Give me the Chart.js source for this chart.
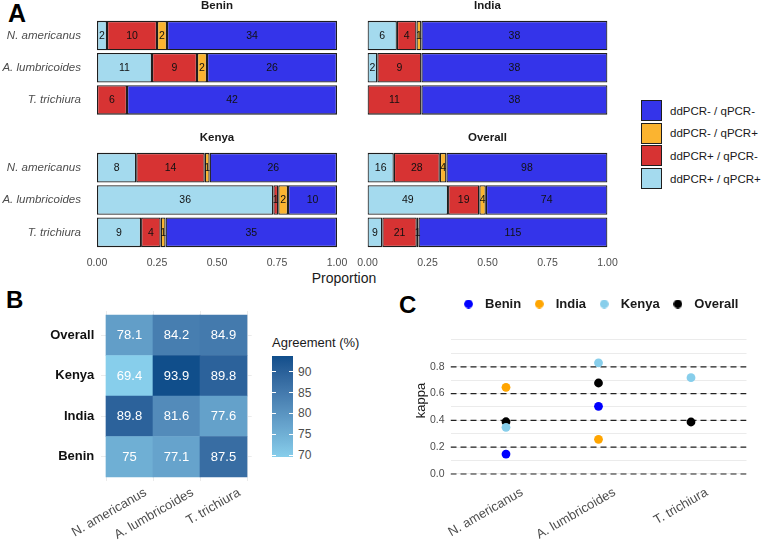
<!DOCTYPE html>
<html><head><meta charset="utf-8">
<script src="https://cdn.jsdelivr.net/npm/chart.js@4"></script>
<style>
body{margin:0;background:#fff;width:764px;height:542px;position:relative;overflow:hidden;font-family:"Liberation Sans",Arial,sans-serif;}
canvas{position:absolute}
.t{position:absolute;white-space:nowrap;color:#1a1a1a}
</style></head><body>
<div class="t" style="left:8px;top:1px;font-size:25px;line-height:25px;font-weight:bold;color:#000">A</div>
<div class="t" style="left:6px;top:288px;font-size:24px;line-height:24px;font-weight:bold;color:#000">B</div>
<div class="t" style="left:399px;top:293px;font-size:24px;line-height:24px;font-weight:bold;color:#000">C</div>

<canvas id="aBenin" width="352" height="116" style="left:0;top:0"></canvas>
<canvas id="aIndia" width="265" height="116" style="left:355px;top:0"></canvas>
<canvas id="aKenya" width="352" height="138" style="left:0;top:132px"></canvas>
<canvas id="aOverall" width="265" height="138" style="left:355px;top:132px"></canvas>
<div class="t" id="propLabel" style="left:344px;top:278px;transform:translate(-50%,-50%);font-size:14px">Proportion</div>
<div id="legendA"></div>

<canvas id="bHeat" width="270" height="252" style="left:0;top:290px"></canvas>
<div id="colorbar"></div>

<canvas id="cKappa" width="384" height="257" style="left:380px;top:285px"></canvas>

<script>
// ---------- data ----------
const species = ['N. americanus', 'A. lumbricoides', 'T. trichiura'];
const stackOrder = ['ddPCR+ / qPCR+', 'ddPCR+ / qPCR-', 'ddPCR- / qPCR+', 'ddPCR- / qPCR-'];
const legendOrderA = ['ddPCR- / qPCR-', 'ddPCR- / qPCR+', 'ddPCR+ / qPCR-', 'ddPCR+ / qPCR+'];
const proportionTicks = [0, 0.25, 0.5, 0.75, 1];

// counts per species (N. americanus, A. lumbricoides, T. trichiura)
const beninPosPos = [2, 11, 0];
const beninPosNeg = [10, 9, 6];
const beninNegPos = [2, 2, 0];
const beninNegNeg = [34, 26, 42];

const indiaPosPos = [6, 2, 0];
const indiaPosNeg = [4, 9, 11];
const indiaNegPos = [1, 0, 0];
const indiaNegNeg = [38, 38, 38];

const kenyaPosPos = [8, 36, 9];
const kenyaPosNeg = [14, 1, 4];
const kenyaNegPos = [1, 2, 1];
const kenyaNegNeg = [26, 10, 35];

const overallPosPos = [16, 49, 9];
const overallPosNeg = [28, 19, 21];
const overallNegPos = [4, 4, 1];
const overallNegNeg = [98, 74, 115];

// agreement (%) heatmap, rows bottom to top
const heatRows = ['Benin', 'India', 'Kenya', 'Overall'];
const agreeBenin = [75, 77.1, 87.5];
const agreeIndia = [89.8, 81.6, 77.6];
const agreeKenya = [69.4, 93.9, 89.8];
const agreeOverall = [78.1, 84.2, 84.9];
const agreeTicks = [70, 75, 80, 85, 90];

// kappa
const kappaSites = ['Benin', 'India', 'Kenya', 'Overall'];
const kappaBenin = [0.149, 0.505, null];
const kappaIndia = [0.647, 0.259, null];
const kappaKenya = [0.348, 0.83, 0.719];
const kappaOverall = [0.39, 0.679, 0.388];
const kappaRefLines = [0, 0.2, 0.4, 0.6, 0.8];
const kappaGrid = [0, 0.1, 0.2, 0.3, 0.4, 0.5, 0.6, 0.7, 0.8, 0.9, 1.0];
const kappaTickLabels = ['0.0', '', '0.2', '', '0.4', '', '0.6', '', '0.8', '', ''];

// ---------- styles ----------
const fillA = {'ddPCR+ / qPCR+':'#A4DAEE','ddPCR+ / qPCR-':'#D73333','ddPCR- / qPCR+':'#FBB430','ddPCR- / qPCR-':'#3434EA'};
const siteColors = {'Benin':'#0000FF','India':'#FFA500','Kenya':'#87CEEB','Overall':'#000000'};
const FONT = '"Liberation Sans", Arial, sans-serif';
Chart.defaults.font.family = FONT;
Chart.defaults.animation = false;

function noPad(s){ s.paddingTop = 0; s.paddingBottom = 0; s.paddingLeft = 0; s.paddingRight = 0; }

// ---------- colour scale (Lab interpolation) ----------
function s2l(c){c/=255;return c<=0.04045?c/12.92:Math.pow((c+0.055)/1.055,2.4);}
function l2s(c){const v=c<=0.0031308?12.92*c:1.055*Math.pow(c,1/2.4)-0.055;return Math.round(Math.max(0,Math.min(1,v))*255);}
function hex2lab(h){
  const r=s2l(parseInt(h.slice(1,3),16)),g=s2l(parseInt(h.slice(3,5),16)),b=s2l(parseInt(h.slice(5,7),16));
  const X=(0.4124*r+0.3576*g+0.1805*b)/0.95047,Y=0.2126*r+0.7152*g+0.0722*b,Z=(0.0193*r+0.1192*g+0.9505*b)/1.08883;
  const f=t=>t>0.008856?Math.cbrt(t):7.787*t+16/116;
  const fx=f(X),fy=f(Y),fz=f(Z);
  return [116*fy-16,500*(fx-fy),200*(fy-fz)];
}
function lab2rgb(L,a,bb){
  const fy=(L+16)/116,fx=fy+a/500,fz=fy-bb/200;
  const inv=t=>t*t*t>0.008856?t*t*t:(t-16/116)/7.787;
  const X=inv(fx)*0.95047,Y=inv(fy),Z=inv(fz)*1.08883;
  const r=3.2406*X-1.5372*Y-0.4986*Z,g=-0.9689*X+1.8758*Y+0.0415*Z,b=0.0557*X-0.2040*Y+1.0570*Z;
  return 'rgb('+l2s(r)+','+l2s(g)+','+l2s(b)+')';
}
const allAgree = agreeBenin.concat(agreeIndia, agreeKenya, agreeOverall);
const aMin = Math.min(...allAgree), aMax = Math.max(...allAgree);
const labLow = hex2lab('#87CEEB'), labHigh = hex2lab('#104E8B');
function heatColor(v){
  const t=(v-aMin)/(aMax-aMin);
  return lab2rgb(labLow[0]+t*(labHigh[0]-labLow[0]),labLow[1]+t*(labHigh[1]-labLow[1]),labLow[2]+t*(labHigh[2]-labLow[2]));
}

// ---------- plugins ----------
const segLabels = {
  id:'segLabels',
  afterDatasetsDraw(chart, args, opts){
    const ctx = chart.ctx;
    ctx.save();
    ctx.font = opts.font; ctx.fillStyle = opts.color;
    ctx.textAlign = 'center'; ctx.textBaseline = 'middle';
    chart.data.datasets.forEach((ds, di) => {
      if (!ds.texts) return;
      const meta = chart.getDatasetMeta(di);
      meta.data.forEach((el, i) => {
        const txt = ds.texts[i];
        if (txt === null || txt === undefined || txt === 0) return;
        const p = el.getProps(['x','y','base'], true);
        if (opts.horizontal) ctx.fillText(String(txt), (p.x + p.base) / 2, p.y + 0.5);
        else ctx.fillText(String(txt), p.x, (p.y + p.base) / 2 + 0.5);
      });
    });
    ctx.restore();
  }
};

// ---------- panel A ----------
function barPanel(id, title, counts, showY, showX, padL, padR){
  const totals = species.map((_, i) => counts.reduce((s, a) => s + a[i], 0));
  const datasets = stackOrder.map((name, k) => ({
    label: name,
    texts: counts[k],
    data: counts[k].map((c, i) => c ? c / totals[i] : null),
    backgroundColor: fillA[name],
    borderColor: '#1e1e1e', borderWidth: 1.3, borderSkipped: false,
    barPercentage: 0.915, categoryPercentage: 1
  }));
  return new Chart(document.getElementById(id), {
    type: 'bar',
    data: {labels: species, datasets},
    options: {
      indexAxis: 'y', responsive: false, animation: false,
      layout: {padding: {left: padL, right: padR, top: 0, bottom: 0}},
      scales: {
        x: {
          stacked: true, min: 0, max: 1, display: showX,
          grid: {display: false, drawTicks: false}, border: {display: false},
          afterBuildTicks: s => { s.ticks = proportionTicks.map(v => ({value: v})); },
          afterFit: s => { s.height = showX ? 21.5 : 0; noPad(s); },
          ticks: {padding: 8, color: '#4d4d4d', font: {size: 10.5}, maxRotation: 0, callback: v => Number(v).toFixed(2)}
        },
        y: {
          stacked: true, display: showY,
          grid: {display: false, drawTicks: false}, border: {display: false},
          afterFit: s => { s.width = showY ? 97 : 0; noPad(s); },
          ticks: {padding: 16, color: '#4d4d4d', font: {size: 11.5, style: 'italic'}}
        }
      },
      plugins: {
        legend: {display: false}, tooltip: {enabled: false},
        title: {display: true, text: title, fullSize: false, color: '#1a1a1a',
                font: {size: 11.5, weight: 'bold', lineHeight: 1}, padding: {top: 0, bottom: 8}},
        segLabels: {font: '10.5px ' + FONT, color: '#111', horizontal: true}
      }
    },
    plugins: [segLabels]
  });
}
barPanel('aBenin', 'Benin', [beninPosPos, beninPosNeg, beninNegPos, beninNegNeg], true, false, 0, 15);
barPanel('aIndia', 'India', [indiaPosPos, indiaPosNeg, indiaNegPos, indiaNegNeg], false, false, 12.5, 12.5);
barPanel('aKenya', 'Kenya', [kenyaPosPos, kenyaPosNeg, kenyaNegPos, kenyaNegNeg], true, true, 0, 15);
barPanel('aOverall', 'Overall', [overallPosPos, overallPosNeg, overallNegPos, overallNegNeg], false, true, 12.5, 12.5);

// legend A
(function(){
  const box = document.getElementById('legendA');
  legendOrderA.forEach((name, i) => {
    const top = 100 + i * 22.7;
    const sq = document.createElement('div');
    sq.style.cssText = 'position:absolute;left:641px;top:' + top + 'px;width:19px;height:19px;border:1.2px solid #1e1e1e;background:' + fillA[name];
    box.appendChild(sq);
    const tx = document.createElement('div');
    tx.className = 't';
    tx.style.cssText = 'left:670px;top:' + (top + 10.6) + 'px;transform:translateY(-50%);font-size:11.5px;color:#1a1a1a';
    tx.textContent = name;
    box.appendChild(tx);
  });
})();

// ---------- panel B ----------
(function(){
  const rowsVals = [agreeBenin, agreeIndia, agreeKenya, agreeOverall];
  const datasets = heatRows.map((r, k) => ({
    label: r,
    texts: rowsVals[k],
    data: rowsVals[k].map((v, i) => ({x: i + 1, y: 1})),
    backgroundColor: rowsVals[k].map(heatColor),
    borderWidth: 0, barPercentage: 1, categoryPercentage: 1
  }));
  new Chart(document.getElementById('bHeat'), {
    type: 'bar',
    data: {datasets},
    options: {
      responsive: false, animation: false,
      layout: {padding: {left: 0, right: 18.3, top: 21, bottom: 0}},
      scales: {
        x: {
          type: 'linear', stacked: true, min: 0.4, max: 3.6, offset: false,
          grid: {color: '#ebebeb', drawTicks: false}, border: {display: false},
          afterBuildTicks: s => { s.ticks = species.map((_, i) => ({value: i + 1})); },
          afterFit: s => { s.height = 61; noPad(s); },
          ticks: {color: '#4d4d4d', font: {size: 13}, minRotation: 30, maxRotation: 30, padding: 4, autoSkip: false,
                  labelOffset: 16, callback: (v, i) => species[i]}
        },
        y: {
          stacked: true, min: -0.1, max: 4.1,
          grid: {color: '#ebebeb', drawTicks: false}, border: {display: false},
          afterBuildTicks: s => { s.ticks = heatRows.map((_, i) => ({value: i + 0.5})); },
          afterFit: s => { s.width = 101.3; noPad(s); },
          ticks: {color: '#111', font: {size: 13, weight: 'bold'}, padding: 7, autoSkip: false,
                  callback: (v, i) => heatRows[i]}
        }
      },
      plugins: {
        legend: {display: false}, tooltip: {enabled: false},
        segLabels: {font: '13px ' + FONT, color: '#ffffff', horizontal: false}
      }
    },
    plugins: [segLabels]
  });

  // colour bar legend
  const cb = document.getElementById('colorbar');
  const barTop = 355.7, barBot = 457.5, barLeft = 272, barW = 21;
  const stops = [];
  for (let k = 0; k <= 20; k++) { const v = aMin + (aMax - aMin) * k / 20; stops.push(heatColor(v) + ' ' + (k * 5) + '%'); }
  const title = document.createElement('div');
  title.className = 't';
  title.style.cssText = 'left:272px;top:342px;transform:translateY(-50%);font-size:13px;color:#1a1a1a';
  title.textContent = 'Agreement (%)';
  cb.appendChild(title);
  const bar = document.createElement('div');
  bar.style.cssText = 'position:absolute;left:' + barLeft + 'px;top:' + barTop + 'px;width:' + barW + 'px;height:' + (barBot - barTop) + 'px;background:linear-gradient(to top,' + stops.join(',') + ')';
  cb.appendChild(bar);
  agreeTicks.forEach(v => {
    const y = barBot - (v - aMin) / (aMax - aMin) * (barBot - barTop);
    ['left', 'right'].forEach(side => {
      const tk = document.createElement('div');
      tk.style.cssText = 'position:absolute;top:' + (y - 0.5) + 'px;width:4px;height:1px;background:#fff;' + (side === 'left' ? 'left:' + barLeft + 'px' : 'left:' + (barLeft + barW - 4) + 'px');
      cb.appendChild(tk);
    });
    const lb = document.createElement('div');
    lb.className = 't';
    lb.style.cssText = 'left:298px;top:' + y + 'px;transform:translateY(-50%);font-size:12px;color:#4d4d4d';
    lb.textContent = String(v);
    cb.appendChild(lb);
  });
})();

// ---------- panel C ----------
(function(){
  function dotCanvas(color){
    const c = document.createElement('canvas');
    c.width = 9; c.height = 9;
    const g = c.getContext('2d');
    g.fillStyle = color; g.beginPath(); g.arc(4.5, 4.5, 4.4, 0, Math.PI * 2); g.fill();
    return c;
  }
  const series = [kappaBenin, kappaIndia, kappaKenya, kappaOverall];
  const datasets = kappaSites.map((site, k) => ({
    label: site,
    data: series[k].map((v, i) => v === null ? null : {x: i + 1, y: v}).filter(p => p),
    backgroundColor: siteColors[site], borderColor: siteColors[site],
    pointRadius: 4.4, pointBorderWidth: 0, showLine: false, pointStyle: 'circle'
  }));
  kappaRefLines.forEach(v => datasets.push({
    label: 'ref' + v, isRef: true,
    data: [{x: 0.4, y: v}, {x: 3.6, y: v}],
    showLine: true, borderColor: '#222', borderWidth: 1.2, borderDash: [6, 4], pointRadius: 0, fill: false
  }));
  new Chart(document.getElementById('cKappa'), {
    type: 'scatter',
    data: {datasets},
    options: {
      responsive: false, animation: false,
      layout: {padding: {left: 34, right: 17.5, top: 4.4, bottom: 0}},
      scales: {
        x: {
          type: 'linear', min: 0.4, max: 3.6,
          grid: {display: false, drawTicks: false}, border: {display: false},
          afterBuildTicks: s => { s.ticks = species.map((_, i) => ({value: i + 1})); },
          afterFit: s => { s.height = 61.3; noPad(s); },
          ticks: {color: '#4d4d4d', font: {size: 13}, minRotation: 30, maxRotation: 30, padding: 4, autoSkip: false,
                  labelOffset: 16, callback: (v, i) => species[i]}
        },
        y: {
          min: -0.05, max: 1.1455,
          grid: {color: '#ebebeb', drawTicks: false}, border: {display: false},
          afterBuildTicks: s => { s.ticks = kappaGrid.map(v => ({value: v})); },
          afterFit: s => { s.width = 36.5; noPad(s); },
          title: {display: true, text: 'kappa', color: '#1a1a1a', font: {size: 13}, padding: 0},
          ticks: {color: '#4d4d4d', font: {size: 10.5}, padding: 6, autoSkip: false,
                  callback: (v, i) => kappaTickLabels[i]}
        }
      },
      plugins: {
        tooltip: {enabled: false},
        legend: {
          position: 'top', align: 'end',
          labels: {
            usePointStyle: true, pointStyleWidth: 20, boxHeight: 6.2, padding: 8.1,
            color: '#1a1a1a', font: {size: 13, weight: 'bold'},
            generateLabels: chart => Chart.defaults.plugins.legend.labels.generateLabels(chart)
              .map(it => Object.assign(it, {pointStyle: dotCanvas(siteColors[it.text] || '#000')})),
            filter: item => item.datasetIndex < kappaSites.length
          }
        }
      }
    }
  });
})();
</script>
</body></html>
